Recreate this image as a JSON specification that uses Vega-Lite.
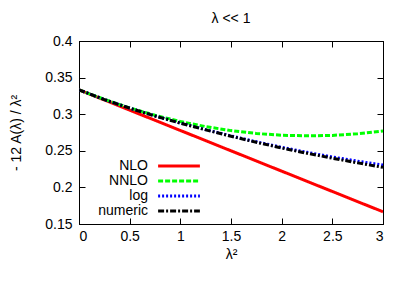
{
  "$schema": "https://vega.github.io/schema/vega-lite/v6.json",
  "autosize": {"type": "none"},
  "width": 304,
  "height": 183,
  "padding": {"left": 79, "top": 41, "right": 26, "bottom": 61},
  "title": {"text": "λ << 1", "fontSize": 14, "fontWeight": "normal", "font": "Liberation Sans", "color": "black", "offset": 8},
  "config": {
    "font": "Liberation Sans",
    "view": {"stroke": "black", "strokeWidth": 1},
    "axis": {
      "grid": false,
      "domainColor": "black",
      "tickColor": "black",
      "tickSize": -6,
      "labelFontSize": 14,
      "labelColor": "black",
      "titleFontSize": 14,
      "titleFontWeight": "normal",
      "titleColor": "black"
    },
    "legend": {
      "orient": "none",
      "legendX": 93,
      "legendY": 118,
      "padding": 0,
      "labelAlign": "right",
      "labelOffset": -38,
      "labelFontSize": 14,
      "labelColor": "black",
      "symbolType": "M-3.8,0H3.8",
      "symbolSize": 121,
      "symbolStrokeWidth": 3,
      "rowPadding": 1,
      "title": null
    }
  },
  "data": {
    "values": [
      {"x": 0, "y": 0.33333, "series": "NLO"},
      {"x": 0.5, "y": 0.30556, "series": "NLO"},
      {"x": 1, "y": 0.27778, "series": "NLO"},
      {"x": 1.5, "y": 0.25, "series": "NLO"},
      {"x": 2, "y": 0.22222, "series": "NLO"},
      {"x": 2.5, "y": 0.19444, "series": "NLO"},
      {"x": 3, "y": 0.16667, "series": "NLO"},
      {"x": 0, "y": 0.33333, "series": "NNLO"},
      {"x": 0.25, "y": 0.32021, "series": "NNLO"},
      {"x": 0.5, "y": 0.30862, "series": "NNLO"},
      {"x": 0.75, "y": 0.29856, "series": "NNLO"},
      {"x": 1, "y": 0.29003, "series": "NNLO"},
      {"x": 1.25, "y": 0.28305, "series": "NNLO"},
      {"x": 1.5, "y": 0.27758, "series": "NNLO"},
      {"x": 1.75, "y": 0.27366, "series": "NNLO"},
      {"x": 2, "y": 0.27126, "series": "NNLO"},
      {"x": 2.25, "y": 0.2704, "series": "NNLO"},
      {"x": 2.5, "y": 0.27107, "series": "NNLO"},
      {"x": 2.75, "y": 0.27327, "series": "NNLO"},
      {"x": 3, "y": 0.277, "series": "NNLO"},
      {"x": 0, "y": 0.3333, "series": "log"},
      {"x": 0.25, "y": 0.32, "series": "log"},
      {"x": 0.5, "y": 0.3083, "series": "log"},
      {"x": 0.75, "y": 0.2977, "series": "log"},
      {"x": 1, "y": 0.288, "series": "log"},
      {"x": 1.25, "y": 0.2789, "series": "log"},
      {"x": 1.5, "y": 0.2704, "series": "log"},
      {"x": 1.75, "y": 0.2623, "series": "log"},
      {"x": 2, "y": 0.2548, "series": "log"},
      {"x": 2.25, "y": 0.2479, "series": "log"},
      {"x": 2.5, "y": 0.2416, "series": "log"},
      {"x": 2.75, "y": 0.2358, "series": "log"},
      {"x": 3, "y": 0.2305, "series": "log"},
      {"x": 0, "y": 0.3333, "series": "numeric"},
      {"x": 0.25, "y": 0.32, "series": "numeric"},
      {"x": 0.5, "y": 0.3082, "series": "numeric"},
      {"x": 0.75, "y": 0.2975, "series": "numeric"},
      {"x": 1, "y": 0.2878, "series": "numeric"},
      {"x": 1.25, "y": 0.2786, "series": "numeric"},
      {"x": 1.5, "y": 0.2699, "series": "numeric"},
      {"x": 1.75, "y": 0.2616, "series": "numeric"},
      {"x": 2, "y": 0.2538, "series": "numeric"},
      {"x": 2.25, "y": 0.2466, "series": "numeric"},
      {"x": 2.5, "y": 0.2399, "series": "numeric"},
      {"x": 2.75, "y": 0.2335, "series": "numeric"},
      {"x": 3, "y": 0.2274, "series": "numeric"}
    ]
  },
  "layer": [
    {
      "mark": {"type": "line", "strokeWidth": 3, "clip": true},
      "encoding": {
        "x": {"field": "x", "type": "quantitative", "scale": {"domain": [0, 3], "nice": false},
              "axis": {"orient": "bottom", "values": [0, 0.5, 1, 1.5, 2, 2.5, 3], "format": "~g", "title": "λ²", "labelPadding": 11, "titlePadding": 4}},
        "y": {"field": "y", "type": "quantitative", "scale": {"domain": [0.15, 0.4], "nice": false, "zero": false},
              "axis": {"orient": "left", "values": [0.15, 0.2, 0.25, 0.3, 0.35, 0.4], "format": ".2~f", "title": "- 12 A(λ) / λ²", "labelPadding": 13, "titlePadding": 21}},
        "color": {"field": "series", "type": "nominal",
                  "scale": {"domain": ["NLO", "NNLO", "log", "numeric"], "range": ["#ff0000", "#00ff00", "#0000ff", "#000000"]}},
        "strokeDash": {"field": "series", "type": "nominal",
                       "scale": {"domain": ["NLO", "NNLO", "log", "numeric"], "range": [[1, 0], [5, 2], [2, 2], [6, 2, 2, 2]]}}
      }
    },
    {
      "mark": {"type": "line", "opacity": 0},
      "encoding": {
        "x": {"field": "x", "type": "quantitative", "axis": {"orient": "top", "values": [0, 0.5, 1, 1.5, 2, 2.5, 3], "labels": false, "title": null}},
        "y": {"field": "y", "type": "quantitative", "axis": {"orient": "right", "values": [0.15, 0.2, 0.25, 0.3, 0.35, 0.4], "labels": false, "title": null}},
        "detail": {"field": "series"}
      }
    }
  ],
  "resolve": {"axis": {"x": "independent", "y": "independent"}}
}
